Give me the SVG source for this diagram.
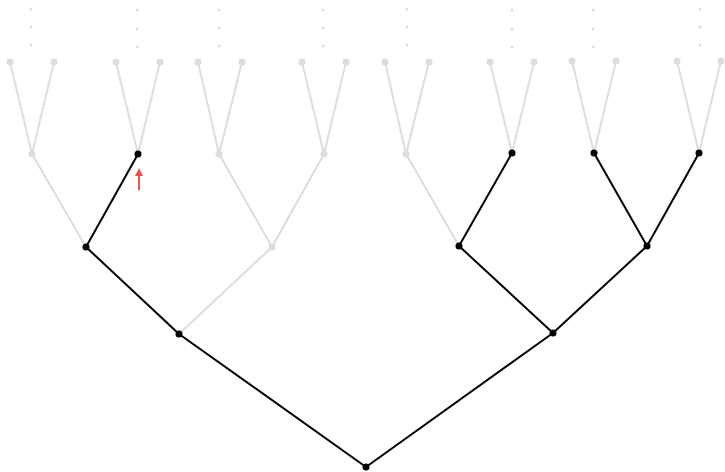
<svg xmlns="http://www.w3.org/2000/svg" width="725" height="472" viewBox="0 0 725 472">
<style>
.g{stroke:#dddddd;stroke-width:2;fill:none}
.b{stroke:#000000;stroke-width:2;fill:none}
.ng{fill:#dddddd}
.nb{fill:#000000}
.d{fill:#dddddd}
</style>
<defs>
<marker id="ah" viewBox="0 0 10 10" refX="5" refY="5" markerWidth="4" markerHeight="4" orient="auto"><path d="M0,0 L10,5 L0,10 z" fill="#e8534f"/></marker>
</defs>
<rect width="725" height="472" fill="#ffffff"/>
<g id="connectors">
<g class="g">
<line x1="179" y1="334" x2="272" y2="247"/>
<line x1="86" y1="247" x2="32" y2="154"/>
<line x1="272" y1="247" x2="219" y2="154"/>
<line x1="272" y1="247" x2="324" y2="154"/>
<line x1="459" y1="246" x2="406" y2="154"/>
<line x1="32" y1="154" x2="10" y2="62"/><line x1="32" y1="154" x2="54" y2="62"/>
<line x1="138" y1="154" x2="116" y2="62"/><line x1="138" y1="154" x2="160" y2="62"/>
<line x1="219" y1="154" x2="198" y2="62"/><line x1="219" y1="154" x2="242" y2="62"/>
<line x1="324" y1="154" x2="302" y2="62"/><line x1="324" y1="154" x2="346" y2="62"/>
<line x1="406" y1="154" x2="385" y2="62"/><line x1="406" y1="154" x2="429" y2="62"/>
<line x1="512" y1="153" x2="490" y2="62"/><line x1="512" y1="153" x2="534" y2="62"/>
<line x1="594" y1="153" x2="572" y2="61"/><line x1="594" y1="153" x2="616" y2="61"/>
<line x1="699" y1="153" x2="677" y2="61"/><line x1="699" y1="153" x2="721" y2="61"/>
</g>
<g class="b">
<line x1="366" y1="467" x2="179" y2="334"/>
<line x1="366" y1="467" x2="553" y2="333"/>
<line x1="179" y1="334" x2="86" y2="247"/>
<line x1="86" y1="247" x2="138" y2="154"/>
<line x1="553" y1="333" x2="459" y2="246"/>
<line x1="553" y1="333" x2="647" y2="246"/>
<line x1="459" y1="246" x2="512" y2="153"/>
<line x1="647" y1="246" x2="594" y2="153"/>
<line x1="647" y1="246" x2="699" y2="153"/>
</g>
<line x1="139" y1="190" x2="139" y2="172" stroke="#e8534f" stroke-width="2" marker-end="url(#ah)"/>
</g>
<g id="dots">
<circle class="d" cx="31" cy="9" r="1.5"/><circle class="d" cx="31" cy="27" r="1.5"/><circle class="d" cx="31" cy="45" r="1.5"/>
<circle class="d" cx="137" cy="10" r="1.5"/><circle class="d" cx="137" cy="29" r="1.5"/><circle class="d" cx="137" cy="47" r="1.5"/>
<circle class="d" cx="219" cy="10" r="1.5"/><circle class="d" cx="219" cy="28" r="1.5"/><circle class="d" cx="219" cy="46" r="1.5"/>
<circle class="d" cx="323" cy="10" r="1.5"/><circle class="d" cx="323" cy="28" r="1.5"/><circle class="d" cx="323" cy="46" r="1.5"/>
<circle class="d" cx="407" cy="9" r="1.5"/><circle class="d" cx="407" cy="27" r="1.5"/><circle class="d" cx="407" cy="45" r="1.5"/>
<circle class="d" cx="512" cy="10" r="1.5"/><circle class="d" cx="512" cy="29" r="1.5"/><circle class="d" cx="512" cy="47" r="1.5"/>
<circle class="d" cx="593" cy="10" r="1.5"/><circle class="d" cx="593" cy="29" r="1.5"/><circle class="d" cx="593" cy="47" r="1.5"/>
<circle class="d" cx="700" cy="9" r="1.5"/><circle class="d" cx="700" cy="27" r="1.5"/><circle class="d" cx="700" cy="45" r="1.5"/>
</g>
<g id="leaves">
<circle class="ng" cx="10" cy="62" r="3.5"/><circle class="ng" cx="54" cy="62" r="3.5"/>
<circle class="ng" cx="116" cy="62" r="3.5"/><circle class="ng" cx="160" cy="62" r="3.5"/>
<circle class="ng" cx="198" cy="62" r="3.5"/><circle class="ng" cx="242" cy="62" r="3.5"/>
<circle class="ng" cx="302" cy="62" r="3.5"/><circle class="ng" cx="346" cy="62" r="3.5"/>
<circle class="ng" cx="385" cy="62" r="3.5"/><circle class="ng" cx="429" cy="62" r="3.5"/>
<circle class="ng" cx="490" cy="62" r="3.5"/><circle class="ng" cx="534" cy="62" r="3.5"/>
<circle class="ng" cx="572" cy="61" r="3.5"/><circle class="ng" cx="616" cy="61" r="3.5"/>
<circle class="ng" cx="677" cy="61" r="3.5"/><circle class="ng" cx="721" cy="61" r="3.5"/>
</g>
<g id="level3">
<circle class="ng" cx="32" cy="154" r="3.5"/>
<circle class="nb" cx="138" cy="154" r="3.5"/>
<circle class="ng" cx="219" cy="154" r="3.5"/>
<circle class="ng" cx="324" cy="154" r="3.5"/>
<circle class="ng" cx="406" cy="154" r="3.5"/>
<circle class="nb" cx="512" cy="153" r="3.5"/>
<circle class="nb" cx="594" cy="153" r="3.5"/>
<circle class="nb" cx="699" cy="153" r="3.5"/>
</g>
<g id="level2">
<circle class="nb" cx="86" cy="247" r="3.5"/>
<circle class="ng" cx="272" cy="247" r="3.5"/>
<circle class="nb" cx="459" cy="246" r="3.5"/>
<circle class="nb" cx="647" cy="246" r="3.5"/>
</g>
<g id="level1">
<circle class="nb" cx="179" cy="334" r="3.5"/>
<circle class="nb" cx="553" cy="333" r="3.5"/>
</g>
<g id="root">
<circle class="nb" cx="366" cy="467" r="3.5"/>
</g>
</svg>
